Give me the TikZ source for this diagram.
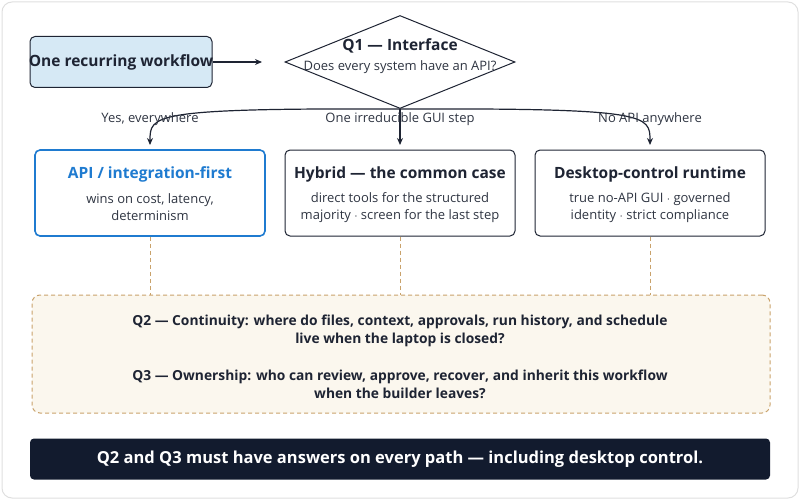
\documentclass[tikz,border=0pt]{standalone}
\usepackage{fontspec}
\setmainfont{Open Sans}
\usepackage{xcolor}
\usetikzlibrary{shapes.geometric,arrows.meta,positioning}
\definecolor{inkdark}{HTML}{1E2433}
\definecolor{bluefill}{HTML}{D6E9F5}
\definecolor{blueline}{HTML}{1F7BD0}
\definecolor{tan}{HTML}{C9A26B}
\definecolor{beige}{HTML}{FBF7EE}
\definecolor{navy}{HTML}{121B2E}
\definecolor{textgray}{HTML}{2F3542}
\begin{document}
\begin{tikzpicture}[x=1pt,y=-1pt,
    box/.style={draw=inkdark,line width=1pt,rounded corners=5pt,fill=white,minimum width=230pt,minimum height=86pt},
    ttl/.style={font=\bfseries\fontsize{15.5}{18}\selectfont,text=inkdark},
    sub/.style={font=\fontsize{13}{17}\selectfont,text=textgray,align=center},
    lbl/.style={font=\fontsize{13}{15}\selectfont,text=textgray},
    arr/.style={draw=inkdark,line width=1.2pt,-{Stealth[length=7pt,width=6pt]}},
    tanlink/.style={draw=tan,line width=0.8pt,dash pattern=on 4pt off 3pt}]
                \useasboundingbox (0,0) rectangle (800,500);
                \draw [gray!25,line width=1pt,rounded corners=10pt] (2,2) rectangle (798,498);
                \node [box,fill=bluefill,minimum width=182pt,minimum height=51pt] (start) at (121,62) {};
                \node [ttl] at (start) {One recurring workflow};
                \node [diamond,draw=inkdark,line width=1pt,fill=white,aspect=2.47,minimum width=230pt,minimum height=93pt,inner sep=0pt] (q1) at (400,62) {};
                \node [ttl] at (400,46) {Q1 --- Interface};
                \node [lbl] at (400,67) {Does every system have an API?};
                \coordinate (startin) at (262,62);
                \draw [arr] (start.east) -- (startin);
                % three paths
                \node [box,draw=blueline,line width=1.6pt] (api) at (150,193) {};
                \node [box] (hyb) at (400,193) {};
                \node [box] (desk) at (650,193) {};
                \coordinate (apiin) at (150,145);
                \coordinate (hybin) at (400,145);
                \coordinate (deskin) at (650,145);
                \draw [arr] (q1.south) .. controls (150,108) and (150,115) .. (apiin);
                \draw [arr] (q1.south) -- (hybin);
                \draw [arr] (q1.south) .. controls (650,108) and (650,115) .. (deskin);
                \node [lbl] at (150,119) {Yes, everywhere};
                \node [lbl] at (400,119) {One irreducible GUI step};
                \node [lbl] at (650,119) {No API anywhere};
                \node [ttl,text=blueline] at (150,174) {API / integration-first};
                \node [sub] at (150,207.5) {wins on cost, latency,\\determinism};
                \node [ttl] at (400,174) {Hybrid --- the common case};
                \node [sub] at (400,207.5) {direct tools for the structured\\majority $\cdot$ screen for the last step};
                \node [ttl] at (650,174) {Desktop-control runtime};
                \node [sub] at (650,207.5) {true no-API GUI $\cdot$ governed\\identity $\cdot$ strict compliance};
                % shared questions
                \node [draw=tan,fill=beige,line width=1pt,dash pattern=on 4pt off 3pt,rounded corners=8pt,minimum width=738pt,minimum height=118pt] (qs) at (401,354) {};
                \draw [tanlink] (api.south) -- (api.south |- qs.north);
                \draw [tanlink] (hyb.south) -- (hyb.south |- qs.north);
                \draw [tanlink] (desk.south) -- (desk.south |- qs.north);
                \node [font=\bfseries\fontsize{13.8}{18}\selectfont,text=inkdark,align=center] at (400,331) {Q2 --- Continuity: where do files, context, approvals, run history, and schedule\\live when the laptop is closed?};
                \node [font=\bfseries\fontsize{13.8}{18}\selectfont,text=inkdark,align=center] at (400,384) {Q3 --- Ownership: who can review, approve, recover, and inherit this workflow\\when the builder leaves?};
                \node [fill=navy,rounded corners=4pt,minimum width=740pt,minimum height=41pt] (bar) at (400,459) {};
                \node [font=\bfseries\fontsize{16.5}{18}\selectfont,text=white] at (bar) {Q2 and Q3 must have answers on every path --- including desktop control.};
\end{tikzpicture}
\end{document}
